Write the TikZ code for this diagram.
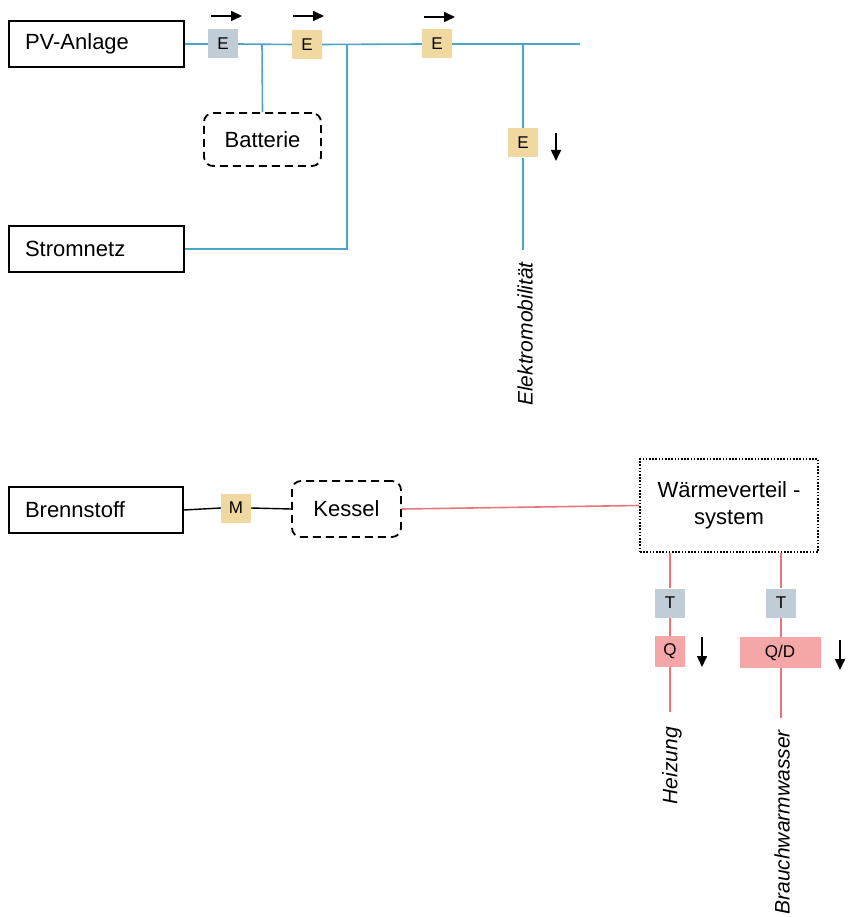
\documentclass[tikz,border=0pt]{standalone}
\usepackage{fontspec}
\setmainfont{Liberation Sans}
\usetikzlibrary{arrows.meta}
\definecolor{elblue}{RGB}{75,165,200}
\definecolor{boxgray}{RGB}{192,204,214}
\definecolor{boxtan}{RGB}{240,217,160}
\definecolor{heatred}{RGB}{232,118,122}
\definecolor{boxpink}{RGB}{245,166,166}
\tikzset{
  main/.style={draw=black, line width=1.4pt, text width=143pt, align=left, inner xsep=16pt, inner ysep=0pt, minimum height=46pt, font=\fontsize{22}{26}\selectfont},
  dashbox/.style={draw=black, line width=1.8pt, dash pattern=on 8pt off 5pt, rounded corners=9pt, inner sep=0pt, font=\fontsize{22}{26}\selectfont},
  meter/.style={minimum width=30pt, minimum height=29pt, inner sep=0pt, font=\fontsize{17}{20}\selectfont},
  ebus/.style={draw=elblue, line width=1.6pt},
  hbus/.style={draw=heatred, line width=1.6pt},
  fuel/.style={draw=black, line width=1.4pt},
  flow/.style={line width=1.6pt, -{Triangle[length=11pt,width=10pt]}},
  lbl/.style={rotate=90, font=\fontsize{21}{25}\selectfont\itshape, inner sep=0pt}
}
\begin{document}
\begin{tikzpicture}[x=1pt,y=-1pt]
\useasboundingbox (0,0) rectangle (847,917);
% top: electricity
\node[main] (pv) at (96.5,44) {PV-Anlage};
\node[main] (netz) at (96.5,249) {Stromnetz};
\node[dashbox, minimum width=117pt, minimum height=53pt] (bat) at (262.5,139.5) {Batterie};
\node[meter, fill=boxgray] (e1) at (223,44) {E};
\node[meter, fill=boxtan] (e2) at (307,44.5) {E};
\node[meter, fill=boxtan] (e3) at (437,44) {E};
\node[meter, fill=boxtan] (e4) at (523,143) {E};
\coordinate (j1) at (262,44);
\coordinate (j2) at (347,44);
\coordinate (j3) at (523,44);
\coordinate (busend) at (580,44);
\coordinate (emobend) at (523,250);
\draw[ebus] (pv.east) -- (e1.west);
\draw[ebus] (e1.east) -- (e2.west);
\draw[ebus] (e2.east) -- (e3.west);
\draw[ebus] (e3.east) -- (busend);
\draw[ebus] (j1) -- (bat.north);
\draw[ebus] (j2) |- (netz.east);
\draw[ebus] (j3) -- (e4.north);
\draw[ebus] (e4.south) -- (emobend);
\node[lbl, anchor=east] (emob) at (525,262) {Elektromobilität};
% flow arrows
\coordinate (a1s) at (211,16); \coordinate (a1e) at (242,16);
\coordinate (a2s) at (293,16); \coordinate (a2e) at (324,16);
\coordinate (a3s) at (424,17); \coordinate (a3e) at (455,17);
\coordinate (a4s) at (556,133); \coordinate (a4e) at (556,161);
\draw[flow] (a1s) -- (a1e);
\draw[flow] (a2s) -- (a2e);
\draw[flow] (a3s) -- (a3e);
\draw[flow] (a4s) -- (a4e);
% bottom: heat
\node[main, text width=142pt] (brenn) at (96,510) {Brennstoff};
\node[meter, fill=boxtan] (m) at (236,508) {M};
\node[dashbox, minimum width=109pt, minimum height=56pt] (kessel) at (346.5,509) {Kessel};
\node[draw=black, line width=1.6pt, dash pattern=on 1.6pt off 1.6pt, minimum width=178pt, minimum height=93pt, inner sep=0pt, align=center, font=\fontsize{22}{27}\selectfont] (wv) at (729,505.5) {Wärmeverteil -\\system};
\draw[fuel] (brenn.east) -- (m.west);
\draw[fuel] (m.east) -- (kessel.west);
\draw[hbus] (kessel.east) -- (wv.west);
\node[meter, fill=boxgray] (t1) at (670,603) {T};
\node[meter, fill=boxgray] (t2) at (781,603) {T};
\node[meter, minimum height=31pt, fill=boxpink] (q) at (670,651.5) {Q};
\node[meter, minimum width=81pt, minimum height=31pt, fill=boxpink] (qd) at (780,652.5) {Q/D};
\coordinate (heizend) at (670,712);
\coordinate (bwend) at (781,718);
\draw[hbus] (t1 |- wv.south) -- (t1.north);
\draw[hbus] (t1.south) -- (q.north);
\draw[hbus] (q.south) -- (heizend);
\draw[hbus] (t2 |- wv.south) -- (t2.north);
\draw[hbus] (t2.south) -- (t2 |- qd.north);
\draw[hbus] (t2 |- qd.south) -- (bwend);
\node[lbl, anchor=east] (heiz) at (672,727) {Heizung};
\node[lbl, anchor=east] (bw) at (782,730) {Brauchwarmwasser};
\coordinate (a5s) at (702,637); \coordinate (a5e) at (702,667);
\coordinate (a6s) at (840,640); \coordinate (a6e) at (840,670);
\draw[flow] (a5s) -- (a5e);
\draw[flow] (a6s) -- (a6e);
\end{tikzpicture}
\end{document}
